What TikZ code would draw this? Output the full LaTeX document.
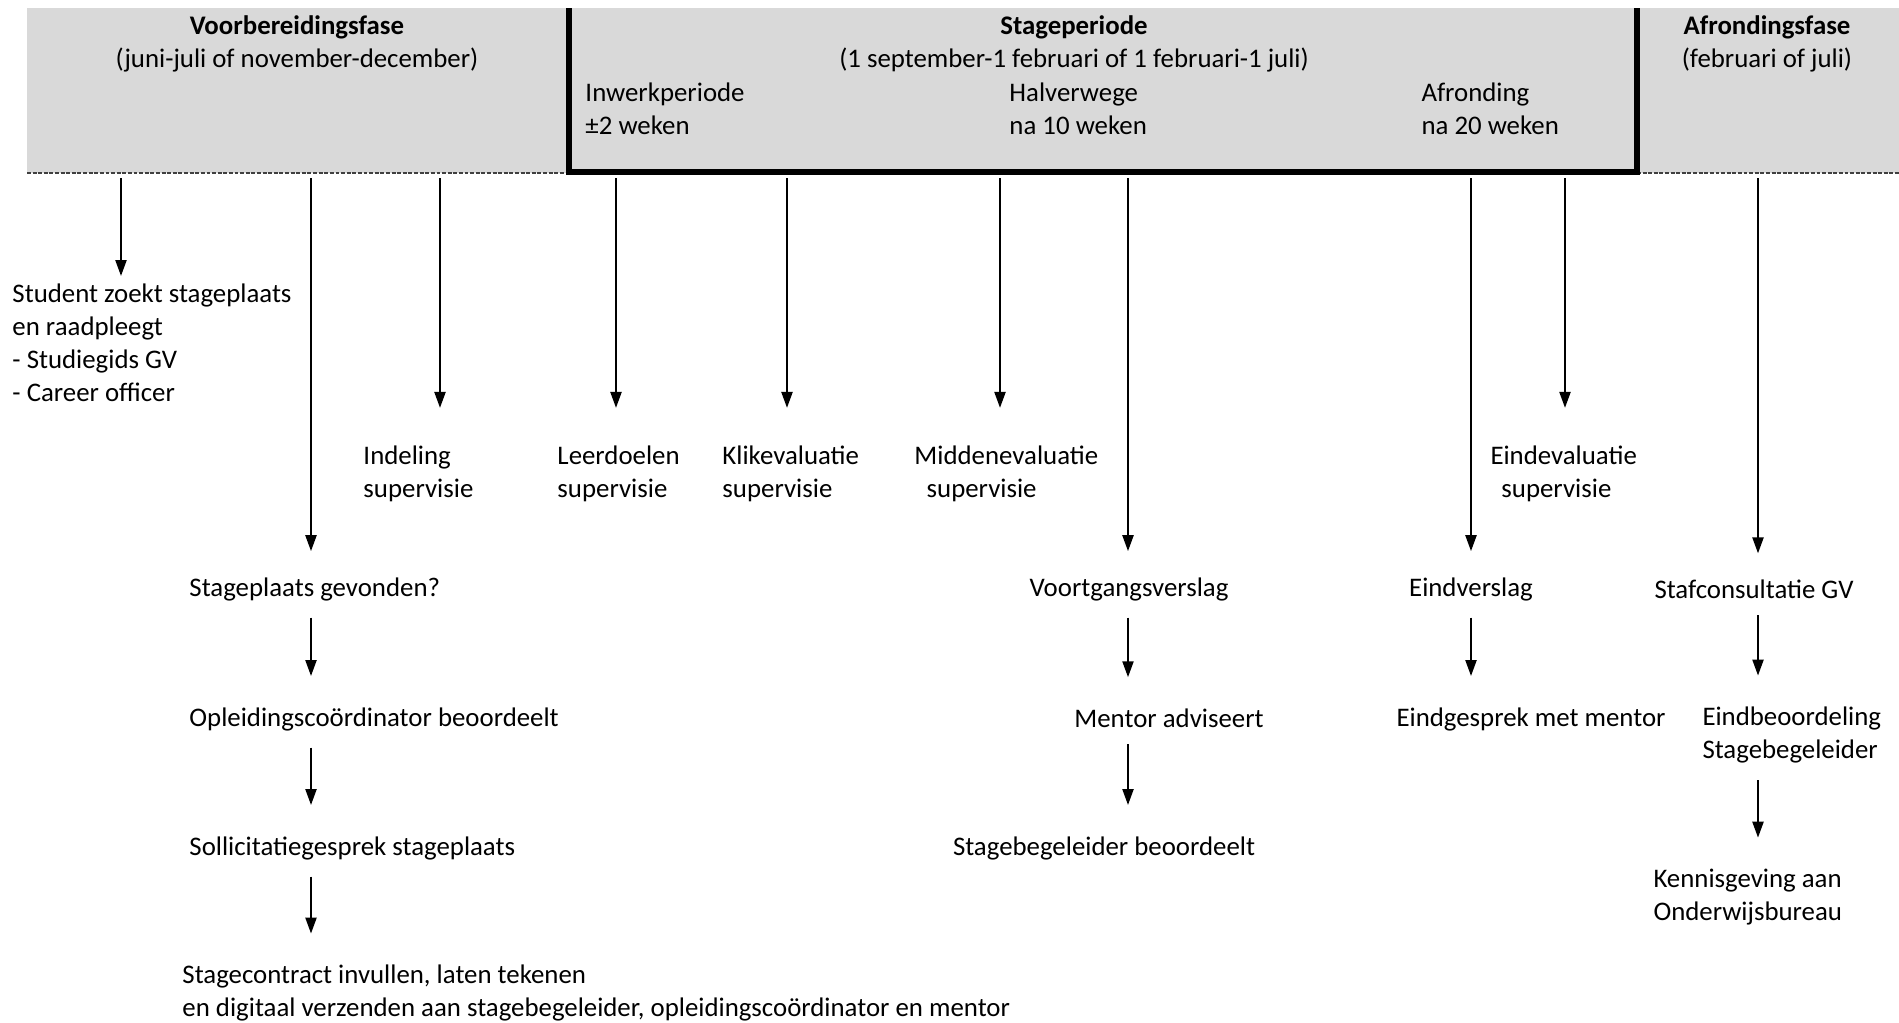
\documentclass[tikz,border=0pt]{standalone}
\usepackage{fontspec}
\setmainfont{Carlito}
\usetikzlibrary{arrows.meta}
\tikzset{%
  tekst/.style={inner sep=0pt, align=left, anchor=west,
    font=\fontsize{11}{13.5}\selectfont},
  tekstm/.style={inner sep=0pt, align=center,
    font=\fontsize{11}{13.5}\selectfont},
  pijl/.style={-{Triangle[length=6.5pt,width=4.6pt]}, line width=0.6pt},
  volgpijl/.style={pijl, shorten <=6.8pt, shorten >=12.7pt}
}

\begin{document}
\begin{tikzpicture}[x=0.41pt, y=-0.41pt]
  \useasboundingbox (0,0) rectangle (1899,1022);

  % balk met de fasen
  \fill[black!15] (27,8) rectangle (1899,173);
  \draw[black!75, line width=0.5pt, dash pattern=on 1.6pt off 0.7pt] (27,173) -- (1899,173);
  \draw[line width=2.2pt] (569,8) -- (569,172) -- (1637,172) -- (1637,8);

  \node[tekstm] (voor) at (297,44) {\textbf{Voorbereidingsfase}\\(juni-juli of november-december)};
  \node[tekstm] (stage) at (1074,44) {\textbf{Stageperiode}\\(1 september-1 februari of 1 februari-1 juli)};
  \node[tekstm] (afr) at (1767,44) {\textbf{Afrondingsfase}\\(februari of juli)};
  \node[tekst] (inwerk) at (585,109) {Inwerkperiode\\±2 weken};
  \node[tekst] (halverwege) at (1009,109) {Halverwege\\na 10 weken};
  \node[tekst] (afronding) at (1421,109) {Afronding\\na 20 weken};

  \coordinate (t1) at (121,178);
  \coordinate (t2) at (311,178);
  \coordinate (t3) at (440,178);
  \coordinate (t4) at (616,178);
  \coordinate (t5) at (787,178);
  \coordinate (t6) at (1000,178);
  \coordinate (t7) at (1128,178);
  \coordinate (t8) at (1471,178);
  \coordinate (t9) at (1565,178);
  \coordinate (t10) at (1758,178);

  % stappen
  \node[tekst] (zoekt) at (12,343) {Student zoekt stageplaats\\en raadpleegt\\- Studiegids GV\\- Career officer};
  \node[tekst] (gevonden) at (189,589) {Stageplaats gevonden?};
  \node[tekst] (oplcoord) at (189,719) {Opleidingscoördinator beoordeelt};
  \node[tekst] (sollicitatie) at (189,848) {Sollicitatiegesprek stageplaats};
  \node[tekst] (contract) at (182,993) {Stagecontract invullen, laten tekenen\\en digitaal verzenden aan stagebegeleider, opleidingscoördinator en mentor};
  \node[tekst] (indeling) at (363,474) {Indeling\\supervisie};
  \node[tekst] (leerdoelen) at (557,474) {Leerdoelen\\supervisie};
  \node[tekst] (klik) at (722,474) {Klikevaluatie\\supervisie};
  \node[tekst] (middenev) at (914,474) {Middenevaluatie\\\hspace{5pt}supervisie};
  \node[tekstm] (voortgang) at (1129,589) {Voortgangsverslag};
  \node[tekstm] (mentor) at (1169,718) {Mentor adviseert};
  \node[tekstm] (sbbeoordeelt) at (1104,848) {Stagebegeleider beoordeelt};
  \node[tekst] (eindev) at (1490,474) {Eindevaluatie\\\hspace{4.5pt}supervisie};
  \node[tekstm] (eindverslag) at (1471,589) {Eindverslag};
  \node[tekstm] (eindgesprek) at (1531,719) {Eindgesprek met mentor};
  \node[tekstm] (staf) at (1754,589) {Stafconsultatie GV};
  \node[tekst] (eindbeoordeling) at (1702,735) {Eindbeoordeling\\Stagebegeleider};
  \node[tekst] (kennisgeving) at (1653,897) {Kennisgeving aan\\Onderwijsbureau};

  \draw[pijl, shorten >=3.2pt] (t1) -- (zoekt.north -| t1);
  \draw[pijl, shorten >=10.6pt] (t2) -- (gevonden.north -| t2);
  \draw[pijl, shorten >=15.5pt] (t3) -- (indeling.north -| t3);
  \draw[pijl, shorten >=15.5pt] (t4) -- (leerdoelen.north -| t4);
  \draw[pijl, shorten >=15.5pt] (t5) -- (klik.north -| t5);
  \draw[pijl, shorten >=15.5pt] (t6) -- (middenev.north -| t6);
  \draw[pijl, shorten >=10.6pt] (t7) -- (voortgang.north -| t7);
  \draw[pijl, shorten >=10.6pt] (t8) -- (eindverslag.north -| t8);
  \draw[pijl, shorten >=15.5pt] (t9) -- (eindev.north -| t9);
  \draw[pijl, shorten >=10.6pt] (t10) -- (staf.north -| t10);

  \draw[volgpijl] (gevonden.south -| t2) -- (oplcoord.north -| t2);
  \draw[volgpijl] (oplcoord.south -| t2) -- (sollicitatie.north -| t2);
  \draw[volgpijl] (sollicitatie.south -| t2) -- (contract.north -| t2);
  \draw[volgpijl] (voortgang.south -| t7) -- (mentor.north -| t7);
  \draw[volgpijl] (mentor.south -| t7) -- (sbbeoordeelt.north -| t7);
  \draw[volgpijl] (eindverslag.south -| t8) -- (eindgesprek.north -| t8);
  \draw[volgpijl] (staf.south -| t10) -- (eindbeoordeling.north -| t10);
  \draw[volgpijl] (eindbeoordeling.south -| t10) -- (kennisgeving.north -| t10);
\end{tikzpicture}
\end{document}
